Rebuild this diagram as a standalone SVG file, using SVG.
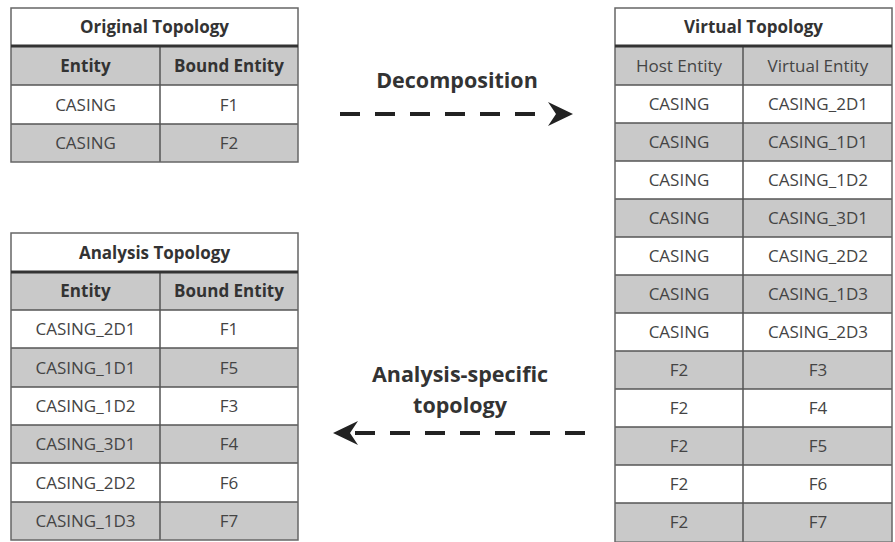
<svg xmlns="http://www.w3.org/2000/svg" width="895" height="542" viewBox="0 0 895 542">
<style>
.bg{fill:#ffffff}
.g{fill:#c9c9c9}
.w{fill:#ffffff}
.ln{stroke:#555;stroke-width:1.5;fill:none}
.thick{stroke:#333;stroke-width:3}
.frame{stroke:#666;stroke-width:1.5;fill:none}
.t{font-family:"Open Sans","Noto Sans",sans-serif;font-size:17px;fill:#444;text-anchor:middle}
.b{font-weight:bold;fill:#333}
.lbl{font-family:"Open Sans","Noto Sans",sans-serif;font-size:21.5px;font-weight:bold;fill:#333;text-anchor:middle}
.dash{stroke:#222;stroke-width:4;stroke-dasharray:20 15;fill:none}
.head{fill:#222}
</style>
<rect x="0" y="0" width="895" height="542" class="bg"/>

<g id="original-topology">
  <rect x="11" y="8" width="287" height="38" class="w"/>
  <rect x="11" y="46" width="287" height="39" class="g"/>
  <rect x="11" y="85" width="287" height="39" class="w"/>
  <rect x="11" y="124" width="287" height="38" class="g"/>
  <line x1="11" y1="85" x2="298" y2="85" class="ln"/>
  <line x1="11" y1="124" x2="298" y2="124" class="ln"/>
  <line x1="160" y1="46" x2="160" y2="162" class="ln"/>
  <rect x="11" y="8" width="287" height="154" class="frame"/>
  <line x1="11" y1="46" x2="298" y2="46" class="thick"/>
  <text x="154.5" y="33" class="t b">Original Topology</text>
  <text x="85.5" y="71.5" class="t b">Entity</text>
  <text x="229" y="71.5" class="t b">Bound Entity</text>
  <text x="85.5" y="110.5" class="t">CASING</text>
  <text x="229" y="110.5" class="t">F1</text>
  <text x="85.5" y="149" class="t">CASING</text>
  <text x="229" y="149" class="t">F2</text>
</g>

<g id="analysis-topology">
  <rect x="11" y="233" width="287" height="39" class="w"/>
  <rect x="11" y="272" width="287" height="38" class="g"/>
  <rect x="11" y="310" width="287" height="38" class="w"/>
  <rect x="11" y="348" width="287" height="39" class="g"/>
  <rect x="11" y="387" width="287" height="38" class="w"/>
  <rect x="11" y="425" width="287" height="38" class="g"/>
  <rect x="11" y="463" width="287" height="39" class="w"/>
  <rect x="11" y="502" width="287" height="38" class="g"/>
  <line x1="11" y1="310" x2="298" y2="310" class="ln"/>
  <line x1="11" y1="348" x2="298" y2="348" class="ln"/>
  <line x1="11" y1="387" x2="298" y2="387" class="ln"/>
  <line x1="11" y1="425" x2="298" y2="425" class="ln"/>
  <line x1="11" y1="463" x2="298" y2="463" class="ln"/>
  <line x1="11" y1="502" x2="298" y2="502" class="ln"/>
  <line x1="160" y1="272" x2="160" y2="540" class="ln"/>
  <rect x="11" y="233" width="287" height="307" class="frame"/>
  <line x1="11" y1="272" x2="298" y2="272" class="thick"/>
  <text x="154.5" y="258.5" class="t b">Analysis Topology</text>
  <text x="85.5" y="297" class="t b">Entity</text>
  <text x="229" y="297" class="t b">Bound Entity</text>
  <text x="85.5" y="335" class="t">CASING_2D1</text>
  <text x="229" y="335" class="t">F1</text>
  <text x="85.5" y="373.5" class="t">CASING_1D1</text>
  <text x="229" y="373.5" class="t">F5</text>
  <text x="85.5" y="412" class="t">CASING_1D2</text>
  <text x="229" y="412" class="t">F3</text>
  <text x="85.5" y="450" class="t">CASING_3D1</text>
  <text x="229" y="450" class="t">F4</text>
  <text x="85.5" y="488.5" class="t">CASING_2D2</text>
  <text x="229" y="488.5" class="t">F6</text>
  <text x="85.5" y="527" class="t">CASING_1D3</text>
  <text x="229" y="527" class="t">F7</text>
</g>

<g id="virtual-topology">
  <rect x="615" y="8" width="277" height="38" class="w"/>
  <rect x="615" y="46" width="277" height="39" class="g"/>
  <rect x="615" y="85" width="277" height="38" class="w"/>
  <rect x="615" y="123" width="277" height="38" class="g"/>
  <rect x="615" y="161" width="277" height="38" class="w"/>
  <rect x="615" y="199" width="277" height="38" class="g"/>
  <rect x="615" y="237" width="277" height="38" class="w"/>
  <rect x="615" y="275" width="277" height="38" class="g"/>
  <rect x="615" y="313" width="277" height="38" class="w"/>
  <rect x="615" y="351" width="277" height="38" class="g"/>
  <rect x="615" y="389" width="277" height="38" class="w"/>
  <rect x="615" y="427" width="277" height="38" class="g"/>
  <rect x="615" y="465" width="277" height="38" class="w"/>
  <rect x="615" y="503" width="277" height="38" class="g"/>
  <line x1="615" y1="85" x2="892" y2="85" class="ln"/>
  <line x1="615" y1="123" x2="892" y2="123" class="ln"/>
  <line x1="615" y1="161" x2="892" y2="161" class="ln"/>
  <line x1="615" y1="199" x2="892" y2="199" class="ln"/>
  <line x1="615" y1="237" x2="892" y2="237" class="ln"/>
  <line x1="615" y1="275" x2="892" y2="275" class="ln"/>
  <line x1="615" y1="313" x2="892" y2="313" class="ln"/>
  <line x1="615" y1="351" x2="892" y2="351" class="ln"/>
  <line x1="615" y1="389" x2="892" y2="389" class="ln"/>
  <line x1="615" y1="427" x2="892" y2="427" class="ln"/>
  <line x1="615" y1="465" x2="892" y2="465" class="ln"/>
  <line x1="615" y1="503" x2="892" y2="503" class="ln"/>
  <line x1="743" y1="46" x2="743" y2="542" class="ln"/>
  <rect x="615" y="8" width="277" height="534" class="frame"/>
  <line x1="615" y1="46" x2="892" y2="46" class="thick"/>
  <text x="753.5" y="33" class="t b">Virtual Topology</text>
  <text x="679" y="71.5" class="t">Host Entity</text>
  <text x="818" y="71.5" class="t">Virtual Entity</text>
  <text x="679" y="110" class="t">CASING</text>
  <text x="818" y="110" class="t">CASING_2D1</text>
  <text x="679" y="148" class="t">CASING</text>
  <text x="818" y="148" class="t">CASING_1D1</text>
  <text x="679" y="186" class="t">CASING</text>
  <text x="818" y="186" class="t">CASING_1D2</text>
  <text x="679" y="224" class="t">CASING</text>
  <text x="818" y="224" class="t">CASING_3D1</text>
  <text x="679" y="262" class="t">CASING</text>
  <text x="818" y="262" class="t">CASING_2D2</text>
  <text x="679" y="300" class="t">CASING</text>
  <text x="818" y="300" class="t">CASING_1D3</text>
  <text x="679" y="338" class="t">CASING</text>
  <text x="818" y="338" class="t">CASING_2D3</text>
  <text x="679" y="376" class="t">F2</text>
  <text x="818" y="376" class="t">F3</text>
  <text x="679" y="414" class="t">F2</text>
  <text x="818" y="414" class="t">F4</text>
  <text x="679" y="452" class="t">F2</text>
  <text x="818" y="452" class="t">F5</text>
  <text x="679" y="490" class="t">F2</text>
  <text x="818" y="490" class="t">F6</text>
  <text x="679" y="528" class="t">F2</text>
  <text x="818" y="528" class="t">F7</text>
</g>

<g id="connectors">
  <g id="decomposition">
    <line x1="340" y1="114" x2="538" y2="114" class="dash"/>
    <polygon points="573,114 548,102 556,114 548,126" class="head"/>
    <text x="457" y="88" class="lbl">Decomposition</text>
  </g>
  <g id="analysis-specific">
    <line x1="355" y1="433" x2="588" y2="433" class="dash"/>
    <polygon points="333,433 358,421 350,433 358,445" class="head"/>
    <text x="460" y="382" class="lbl">Analysis-specific</text>
    <text x="460" y="413" class="lbl">topology</text>
  </g>
</g>
</svg>
